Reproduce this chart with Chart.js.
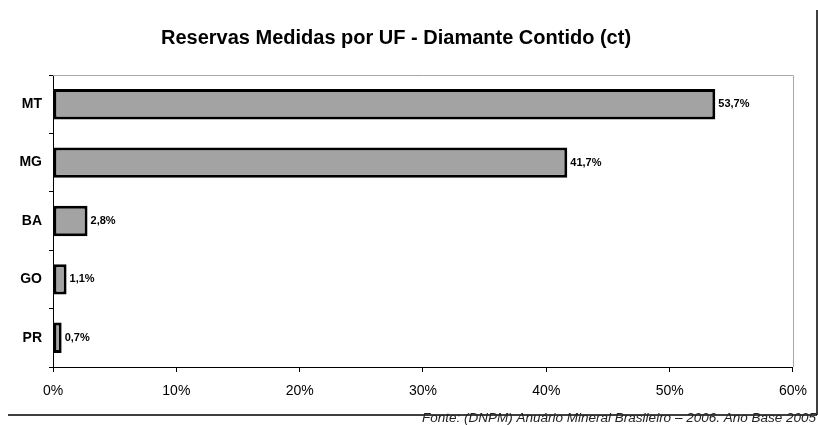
<!DOCTYPE html>
<html>
<head>
<meta charset="utf-8"/>
<title>Reservas Medidas por UF - Diamante Contido (ct)</title>
<script src="https://cdn.jsdelivr.net/npm/chart.js@4"></script>
<style>
  html, body { margin: 0; padding: 0; background: #fff; }
  #wrap { width: 818px; height: 425px; position: relative; }
</style>
</head>
<body>
<div id="wrap"><canvas id="myChart" width="818" height="425"></canvas></div>
<script>
  // dados
  const ufs = ['MT', 'MG', 'BA', 'GO', 'PR'];
  const reservas = [53.7, 41.7, 2.8, 1.1, 0.7];
  const rotulos = ['53,7%', '41,7%', '2,8%', '1,1%', '0,7%'];
  const titulo = 'Reservas Medidas por UF - Diamante Contido (ct)';
  const fonte = 'Fonte: (DNPM) Anuário Mineral Brasileiro – 2006. Ano Base 2005';

  const FONT = '"Liberation Sans", Arial, sans-serif';

  const extras = {
    id: 'extras',
    beforeDatasetsDraw(chart) {
      const c = chart.ctx, a = chart.chartArea;
      c.save();
      c.strokeStyle = '#a8a8a8';
      c.lineWidth = 1;
      c.beginPath();
      c.moveTo(a.left, a.top + 0.5);
      c.lineTo(a.right + 0.5, a.top + 0.5);
      c.lineTo(a.right + 0.5, a.bottom);
      c.stroke();
      c.restore();
    },
    afterDraw(chart) {
      const c = chart.ctx;
      const meta = chart.getDatasetMeta(0);
      c.save();
      // valores
      c.fillStyle = '#000';
      c.font = 'bold 11px ' + FONT;
      c.textAlign = 'left';
      c.textBaseline = 'middle';
      meta.data.forEach((bar, i) => {
        c.fillText(rotulos[i], bar.x + 3, bar.y);
      });
      // título
      c.font = 'bold 20px ' + FONT;
      c.textAlign = 'center';
      c.textBaseline = 'middle';
      c.fillText(titulo, 396, 38);
      // linhas da moldura
      c.strokeStyle = '#000';
      c.lineWidth = 1.5;
      c.beginPath();
      c.moveTo(8, 415);
      c.lineTo(817, 415);
      c.moveTo(817, 10);
      c.lineTo(817, 415);
      c.stroke();
      // fonte
      c.font = 'italic 13.5px ' + FONT;
      c.textAlign = 'right';
      c.textBaseline = 'middle';
      c.fillStyle = '#222';
      c.fillText(fonte, 816, 418);
      c.restore();
    }
  };

  const ctx = document.getElementById('myChart').getContext('2d');
  const chart = new Chart(ctx, {
    type: 'bar',
    data: {
      labels: ufs,
      datasets: [{
        data: reservas,
        backgroundColor: '#a3a3a3',
        borderColor: '#000',
        borderWidth: 3,
        borderSkipped: false,
        barPercentage: 0.52,
        categoryPercentage: 1
      }]
    },
    options: {
      indexAxis: 'y',
      responsive: false,
      animation: false,
      layout: { padding: { left: 0, right: 25, top: 75, bottom: 0 } },
      plugins: {
        legend: { display: false },
        tooltip: { enabled: false }
      },
      scales: {
        x: {
          min: 0,
          max: 60,
          afterFit(s) { s.height = 58; },
          border: { color: '#000', width: 1 },
          grid: { drawOnChartArea: false, drawTicks: true, tickLength: 5, color: '#000' },
          ticks: {
            stepSize: 10,
            padding: 11,
            color: '#000',
            font: { family: FONT, size: 14 },
            callback: v => v + '%'
          }
        },
        y: {
          afterFit(s) { s.width = 53; },
          border: { color: '#000', width: 1 },
          grid: { drawOnChartArea: false, drawTicks: true, tickLength: 4, color: '#000', offset: true },
          ticks: {
            padding: 7,
            color: '#000',
            font: { family: FONT, size: 14, weight: 'bold' }
          }
        }
      }
    },
    plugins: [extras]
  });
</script>
</body>
</html>
